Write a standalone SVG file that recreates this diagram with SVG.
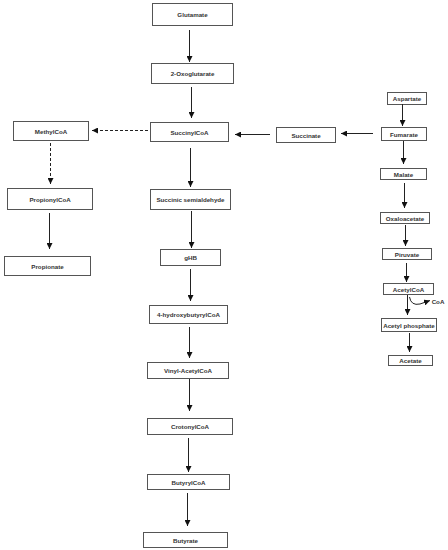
<svg xmlns="http://www.w3.org/2000/svg" width="448" height="550" viewBox="0 0 448 550">
<defs>
<marker id="ah" markerWidth="6" markerHeight="6" refX="6" refY="3" orient="auto" markerUnits="userSpaceOnUse">
<path d="M0,0 L6,3 L0,6 Z" fill="#111"/>
</marker>
<style>
.box{fill:#fff;stroke:#555;stroke-width:1}
.t{font-family:"Liberation Sans",Arial,sans-serif;font-weight:bold;font-size:6.2px;fill:#333;text-anchor:middle;dominant-baseline:central}
.e{fill:none;stroke:#222;stroke-width:1;marker-end:url(#ah)}
.d{stroke-dasharray:3,2}
</style>
</defs>
<rect width="448" height="550" fill="#fff"/>
<g id="glutamate"><rect class="box" x="152.5" y="3.5" width="80" height="22"/><text class="t" x="192.5" y="14.5">Glutamate</text></g>
<g id="oxoglutarate"><rect class="box" x="151.5" y="63.5" width="82" height="20"/><text class="t" x="192.5" y="73.5">2-Oxoglutarate</text></g>
<g id="succinylcoa"><rect class="box" x="150.5" y="122.5" width="78" height="19"/><text class="t" x="189.5" y="132">SuccinylCoA</text></g>
<g id="methylcoa"><rect class="box" x="13.5" y="121.5" width="75" height="19"/><text class="t" x="51" y="131">MethylCoA</text></g>
<g id="propionylcoa"><rect class="box" x="7.5" y="188.5" width="85" height="21"/><text class="t" x="50" y="199">PropionylCoA</text></g>
<g id="propionate"><rect class="box" x="4.5" y="256.5" width="86" height="19"/><text class="t" x="47.5" y="266">Propionate</text></g>
<g id="succinic-semialdehyde"><rect class="box" x="150.5" y="189.5" width="80" height="20"/><text class="t" x="190.5" y="199.5">Succinic semialdehyde</text></g>
<g id="ghb"><rect class="box" x="160.5" y="249.5" width="60" height="16"/><text class="t" x="190.5" y="257.5">gHB</text></g>
<g id="hydroxybutyrylcoa"><rect class="box" x="149.5" y="305.5" width="78" height="18"/><text class="t" x="188.5" y="314.5">4-hydroxybutyrylCoA</text></g>
<g id="vinylacetylcoa"><rect class="box" x="147.5" y="362.5" width="81" height="16"/><text class="t" x="188" y="370.5">Vinyl-AcetylCoA</text></g>
<g id="crotonylcoa"><rect class="box" x="147.5" y="418.5" width="85" height="16"/><text class="t" x="190" y="426.5">CrotonylCoA</text></g>
<g id="butyrylcoa"><rect class="box" x="147.5" y="474.5" width="82" height="15"/><text class="t" x="188.5" y="482">ButyrylCoA</text></g>
<g id="butyrate"><rect class="box" x="143.5" y="532.5" width="84" height="15"/><text class="t" x="185.5" y="540">Butyrate</text></g>
<g id="succinate"><rect class="box" x="276.5" y="127.5" width="59" height="15"/><text class="t" x="306" y="135">Succinate</text></g>
<g id="aspartate"><rect class="box" x="387.5" y="92.5" width="39" height="12"/><text class="t" x="407" y="98.5">Aspartate</text></g>
<g id="fumarate"><rect class="box" x="381.5" y="127.5" width="45" height="13"/><text class="t" x="404" y="134">Fumarate</text></g>
<g id="malate"><rect class="box" x="380.5" y="168.5" width="46" height="11"/><text class="t" x="403.5" y="174">Malate</text></g>
<g id="oxaloacetate"><rect class="box" x="380.5" y="212.5" width="49" height="11"/><text class="t" x="405" y="218">Oxaloacetate</text></g>
<g id="piruvate"><rect class="box" x="382.5" y="248.5" width="49" height="11"/><text class="t" x="407" y="254">Piruvate</text></g>
<g id="acetylcoa"><rect class="box" x="383.5" y="283.5" width="50" height="11"/><text class="t" x="408.5" y="289">AcetylCoA</text></g>
<g id="acetylphosphate"><rect class="box" x="381.5" y="318.5" width="55" height="13"/><text class="t" x="409" y="325">Acetyl phosphate</text></g>
<g id="acetate"><rect class="box" x="388.5" y="355.5" width="44" height="10"/><text class="t" x="410.5" y="360.5">Acetate</text></g>
<g id="coa-label"><text class="t" x="438" y="301.5">CoA</text></g>
<g id="connectors">
<line class="e" x1="189.5" y1="30" x2="189.5" y2="62"/>
<line class="e" x1="191.5" y1="87" x2="191.5" y2="118"/>
<line class="e d" x1="148" y1="130.5" x2="92" y2="130.5"/>
<line class="e d" x1="50.5" y1="143" x2="50.5" y2="184"/>
<line class="e" x1="49.5" y1="213" x2="49.5" y2="249"/>
<line class="e" x1="190.5" y1="148" x2="190.5" y2="187"/>
<line class="e" x1="191.5" y1="211" x2="191.5" y2="248"/>
<line class="e" x1="190.5" y1="269" x2="190.5" y2="301"/>
<line class="e" x1="189.5" y1="327" x2="189.5" y2="358"/>
<line class="e" x1="189.5" y1="379" x2="189.5" y2="411"/>
<line class="e" x1="188.5" y1="438" x2="188.5" y2="472"/>
<line class="e" x1="187.5" y1="493" x2="187.5" y2="526"/>
<line class="e" x1="270" y1="134.5" x2="235" y2="134.5"/>
<line class="e" x1="373" y1="133.5" x2="341" y2="133.5"/>
<line class="e" x1="402.5" y1="104" x2="402.5" y2="126"/>
<line class="e" x1="403.5" y1="141" x2="403.5" y2="164"/>
<line class="e" x1="404.5" y1="183" x2="404.5" y2="208"/>
<line class="e" x1="405.5" y1="225" x2="405.5" y2="246"/>
<line class="e" x1="406.5" y1="263" x2="406.5" y2="282"/>
<line class="e" x1="407.5" y1="295" x2="407.5" y2="315"/>
<line class="e" x1="409.5" y1="333" x2="409.5" y2="352"/>
<path class="e" d="M409.5,297 Q411,306 420,304 L430,300.5"/>
</g>
</svg>
